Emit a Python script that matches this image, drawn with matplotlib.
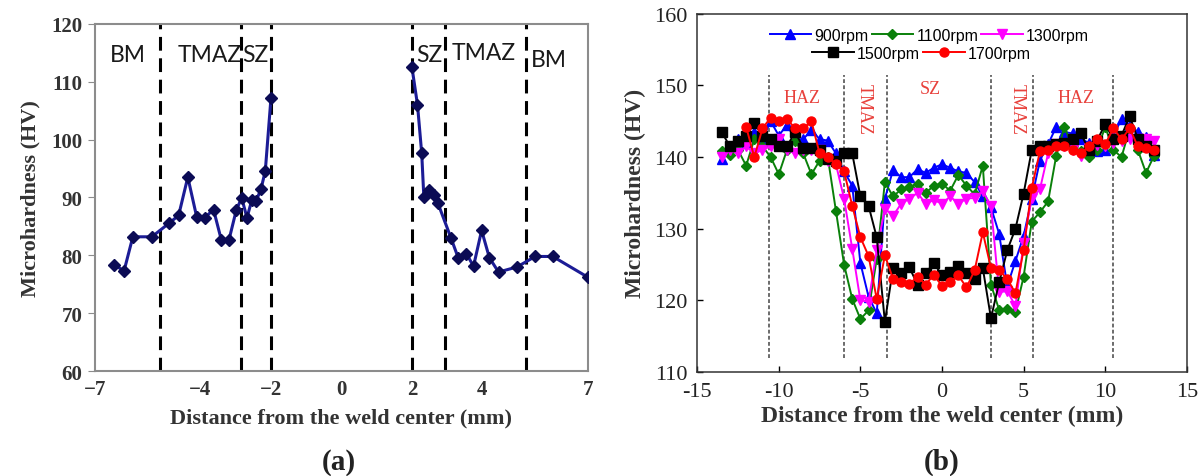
import matplotlib
matplotlib.use("Agg")
import matplotlib.pyplot as plt

# ---- panel (a): single profile, two halves of the weld ----
A_X_LEFT = [-6.46, -6.17, -5.92, -5.38, -4.88, -4.62, -4.36, -4.11, -3.88, -3.63,
            -3.41, -3.19, -2.98, -2.83, -2.68, -2.54, -2.42, -2.28, -2.16, -2.0]
A_HV_LEFT = [78.4, 77.3, 83.2, 83.2, 85.6, 86.9, 93.5, 86.7, 86.5, 87.9,
             82.7, 82.7, 87.9, 89.9, 86.5, 89.6, 89.4, 91.5, 94.6, 107.1]
A_X_RIGHT = [2.0, 2.16, 2.28, 2.34, 2.49, 2.62, 2.74, 3.11, 3.32, 3.55,
             3.75, 3.98, 4.2, 4.46, 4.99, 5.5, 6.0, 7.0]
A_HV_RIGHT = [112.6, 106.0, 97.6, 90.1, 91.3, 90.5, 89.0, 83.0, 79.5, 80.3,
              78.1, 84.3, 79.6, 77.1, 78.0, 79.8, 79.8, 76.2]
A_BOUNDS = [-5.15, -2.86, -2.0, 2.0, 2.94, 5.23]
A_ZONES = [("BM", -6.05, 114.7), ("TMAZ", -3.75, 114.7), ("SZ", -2.43, 114.7),
           ("SZ", 2.5, 114.7), ("TMAZ", 4.05, 115.0), ("BM", 5.9, 113.9)]
A_XTICKS = [-7, -4, -2, 0, 2, 4, 7]

# ---- panel (b): five rotation speeds ----
X_RPM = [-13.5, -13, -12.5, -12, -11.5, -11, -10.5, -10, -9.5, -9, -8.5, -8, -7.5, -7,
         -6.5, -6, -5.5, -5, -4.5, -4, -3.5, -3, -2.5, -2, -1.5, -1, -0.5, 0,
         0.5, 1, 1.5, 2, 2.5, 3, 3.5, 4, 4.5, 5, 5.5, 6, 6.5, 7, 7.5, 8,
         8.5, 9, 9.5, 10, 10.5, 11, 11.5, 12, 12.5, 13]
HV_900 = [139.8, 141.5, 142.5, 142.0, 143.5, 142.5, 145.0, 143.0, 144.5, 142.5,
          142.5, 143.8, 142.5, 142.3, 140.5, 138.0, 136.0, 125.2, 120.5, 118.2,
          134.2, 138.2, 137.2, 137.2, 138.3, 137.8, 138.5, 139.0, 138.5, 138.0,
          137.8, 136.5, 134.5, 133.0, 129.3, 122.0, 125.5, 129.0, 134.2, 139.5,
          141.8, 144.2, 143.5, 143.3, 142.5, 142.0, 140.8, 141.0, 143.0, 145.3,
          144.5, 143.5, 142.8, 140.3]
HV_1100 = [140.8, 140.3, 141.0, 138.8, 142.5, 141.5, 140.0, 137.6, 141.0, 142.2,
           140.5, 137.6, 139.5, 140.0, 132.5, 125.0, 120.2, 117.4, 118.6, 125.8,
           136.5, 134.5, 135.5, 135.8, 136.3, 135.0, 136.0, 136.3, 135.3, 137.5,
           136.0, 134.8, 138.8, 122.2, 118.7, 118.8, 118.4, 123.3, 131.0, 132.3,
           133.8, 140.2, 144.2, 141.5, 140.8, 140.0, 141.0, 144.2, 141.0, 140.0,
           144.0, 141.0, 137.8, 140.2]
HV_1300 = [140.0, 141.0, 140.5, 141.5, 140.5, 141.0, 141.5, 142.5, 141.0, 140.5,
           141.0, 141.0, 141.0, 139.5, 139.0, 134.2, 127.2, 120.0, 119.8, 127.0,
           132.8, 131.8, 133.5, 134.2, 135.0, 133.5, 134.0, 133.5, 134.5, 133.5,
           134.2, 134.3, 135.2, 133.2, 121.2, 121.3, 119.2, 128.0, 134.3, 135.5,
           140.5, 141.8, 141.5, 141.0, 140.2, 141.3, 141.7, 141.5, 142.0, 142.3,
           142.5, 142.5, 142.5, 142.3]
HV_1500 = [143.5, 141.5, 142.3, 143.0, 144.7, 143.0, 142.5, 141.5, 141.5, 143.5,
           141.3, 141.2, 141.0, 139.8, 139.5, 140.5, 140.5, 134.5, 133.2, 128.8,
           117.0, 124.5, 123.8, 124.6, 122.2, 123.8, 125.2, 123.5, 124.0, 124.8,
           123.8, 123.0, 124.5, 117.5, 122.5, 127.0, 130.0, 134.9, 141.0, 141.6,
           141.5, 141.8, 142.0, 142.5, 143.3, 141.0, 142.3, 144.6, 142.5, 143.0,
           145.7, 142.5, 141.5, 141.0]
HV_1700 = [144.2, 140.0, 144.0, 145.5, 145.0, 145.3, 144.0, 144.0, 145.0, 140.5,
           140.0, 139.0, 138.0, 133.2, 128.8, 126.2, 120.2, 126.3, 123.0, 122.5,
           122.3, 123.3, 122.2, 123.6, 122.0, 122.5, 123.5, 121.8, 124.2, 129.5,
           124.5, 124.2, 123.0, 121.0, 127.0, 135.7, 140.8, 141.0, 141.5, 141.5,
           141.0, 140.5, 141.5, 142.5, 141.8, 144.0, 142.5, 144.0, 141.5, 141.2,
           141.0]
X_1700 = X_RPM[3:]
B_BOUNDS = [-10.6, -6.0, -3.4, 3.0, 5.6, 10.5]
B_ZONES = [("HAZ", -8.6, 148.3, 0), ("TMAZ", -4.75, 146.8, 270), ("SZ", -0.7, 149.6, 0),
           ("TMAZ", 4.6, 146.8, 270), ("HAZ", 8.2, 148.3, 0)]
B_XTICKS = [-15, -10, -5, 0, 5, 10, 15]

SERIF = "Liberation Serif"

fig = plt.figure(figsize=(12, 4.77), dpi=100)

# ------------------- (a) -------------------
ax = fig.add_axes([0.079, 0.22, 0.411, 0.728])
navy = "#1c1c96"
for xs, ys in [(A_X_LEFT, A_HV_LEFT), (A_X_RIGHT, A_HV_RIGHT)]:
    ax.plot(xs, ys, color=navy, lw=2.2, marker="D", ms=6.5,
            mfc="#0b0b55", mec="#0b0b55", zorder=3)
for b in A_BOUNDS:
    ax.axvline(b, color="black", lw=2.2, ls=(0, (4.5, 2.5)), zorder=2)
for txt, x, y in A_ZONES:
    ax.text(x, y, txt, ha="center", va="center", fontsize=16.5, family="Lato",
            color="#1a1a1a")
ax.set_xlim(-7, 7)
ax.set_ylim(60, 120)
ax.set_xticks(A_XTICKS)
ax.set_yticks(range(60, 121, 10))
for s in ax.spines.values():
    s.set_color("#8c8c8c")
    s.set_linewidth(1.5)
ax.tick_params(axis="x", length=0, pad=6)
ax.tick_params(axis="y", length=5, color="#8c8c8c", direction="out", pad=4)
for lab in ax.get_xticklabels() + ax.get_yticklabels():
    lab.set_fontfamily(SERIF)
    lab.set_fontweight("bold")
    lab.set_fontsize(15)
    lab.set_color("#333333")
ax.set_xlabel("Distance from the weld center (mm)", family=SERIF, weight="bold",
              fontsize=16, color="#333333", labelpad=6)
ax.set_ylabel("Microhardness (HV)", family=SERIF, weight="bold", fontsize=16,
              color="#333333", labelpad=8)
fig.text(0.282, 0.002, "(a)", family=SERIF, weight="bold", fontsize=21,
         ha="center", va="bottom", color="#222222")

# ------------------- (b) -------------------
bx = fig.add_axes([0.581, 0.218, 0.408, 0.751])
series = [
    ("900rpm", X_RPM, HV_900, "#0000ff", "^"),
    ("1100rpm", X_RPM, HV_1100, "#0a800a", "D"),
    ("1300rpm", X_RPM, HV_1300, "#ff00ff", "v"),
    ("1500rpm", X_RPM, HV_1500, "#000000", "s"),
    ("1700rpm", X_1700, HV_1700, "#ff0000", "o"),
]
handles = []
for name, xs, ys, col, mk in series:
    ms = 5.5 if mk == "D" else 6.5
    (h,) = bx.plot(xs, ys, color=col, lw=1.4, marker=mk, ms=ms, mfc=col, mec=col,
                   label=name, zorder=3)
    handles.append(h)
for b in B_BOUNDS:
    bx.plot([b, b], [112, 151.5], color="#444444", lw=1.1, ls=(0, (2.5, 1.5)), zorder=2)
for txt, x, y, rot in B_ZONES:
    bx.text(x, y, txt, ha="center", va="center", rotation=rot, fontsize=13,
            family=SERIF, color="#e8413c")
bx.set_xlim(-15, 15)
bx.set_ylim(110, 160)
bx.set_xticks(B_XTICKS)
bx.set_xticklabels([str(t) for t in B_XTICKS])
bx.set_yticks(range(110, 161, 10))
for s in bx.spines.values():
    s.set_color("#333333")
    s.set_linewidth(1.1)
bx.tick_params(direction="in", length=4, width=1, pad=7)
for lab in bx.get_xticklabels() + bx.get_yticklabels():
    lab.set_fontfamily(SERIF)
    lab.set_fontsize(16)
    lab.set_color("#222222")
bx.set_xlabel("Distance from the weld center (mm)", family=SERIF, weight="bold",
              fontsize=17, color="#333333", labelpad=3)
bx.set_ylabel("Microhardness (HV)", family=SERIF, weight="bold", fontsize=17,
              color="#333333", labelpad=6)

leg_kw = dict(frameon=False, prop={"family": "Liberation Sans", "size": 11.5},
              handlelength=2.6, handletextpad=0.2, columnspacing=0.2,
              borderaxespad=0, borderpad=0)
leg1 = bx.legend(handles[:3], [h.get_label() for h in handles[:3]], ncol=3,
                 loc="center left", bbox_to_anchor=(0.148, 0.94), **leg_kw)
bx.add_artist(leg1)
bx.legend(handles[3:], [h.get_label() for h in handles[3:]], ncol=2,
          loc="center left", bbox_to_anchor=(0.235, 0.89), **leg_kw)
fig.text(0.785, 0.002, "(b)", family=SERIF, weight="bold", fontsize=21,
         ha="center", va="bottom", color="#222222")

fig.savefig("out.png", dpi=100)
